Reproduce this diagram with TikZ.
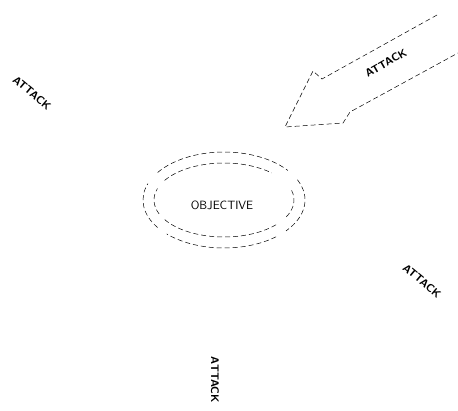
\documentclass[tikz,border=0pt]{standalone}
\usepackage{fontspec}
\usepackage{tikz}
\usetikzlibrary{calc}

\begin{document}
\begin{tikzpicture}[x=1pt,y=-1pt,
    pointille/.style={dash pattern=on 5pt off 3pt, line width=0.5pt},
    attaque/.style={font=\sffamily\bfseries\fontsize{11}{12}\selectfont},
    objectif/.style={font=\sffamily\fontsize{12}{13}\selectfont}]
    \useasboundingbox (0,0) rectangle (458,410);

    % Points
    \coordinate (centre) at (224,200);
    \coordinate (pointe) at (285,127);
    \coordinate (barbeHaut) at (313,71);
    \coordinate (tigeHaut) at (322,79);
    \coordinate (finHaut) at (437,15);
    \coordinate (barbeBas) at (343,123);
    \coordinate (tigeBas) at (350,112);
    \coordinate (finBas) at (458,53);

    % Dessin de l'objectif
    \draw[pointille] ($(centre)+(215:81 and 48)$) arc[start angle=215, end angle=322, x radius=81, y radius=48];
    \draw[pointille] ($(centre)+(335:81 and 48)$) arc[start angle=335, end angle=400, x radius=81, y radius=48];
    \draw[pointille] ($(centre)+(50:81 and 48)$) arc[start angle=50, end angle=135, x radius=81, y radius=48];
    \draw[pointille] ($(centre)+(145:81 and 48)$) arc[start angle=145, end angle=200, x radius=81, y radius=48];
    \draw[pointille] ($(centre)+(212:70 and 37)$) arc[start angle=212, end angle=313, x radius=70, y radius=37];
    \draw[pointille] ($(centre)+(345:70 and 37)$) arc[start angle=345, end angle=388, x radius=70, y radius=37];
    \draw[pointille] ($(centre)+(42:70 and 37)$) arc[start angle=42, end angle=150, x radius=70, y radius=37];
    \draw[pointille] ($(centre)+(158:70 and 37)$) arc[start angle=158, end angle=198, x radius=70, y radius=37];
    \node[objectif] (objectif) at (222,205) {OBJECTIVE};

    % Dessin de la fleche
    \draw[pointille] (finHaut) -- (tigeHaut) -- (barbeHaut) -- (pointe) -- (barbeBas) -- (tigeBas) -- (finBas);
    \node[attaque, rotate=30] (attaqueFleche) at (386,63) {ATTACK};

    % Autres attaques
    \node[attaque, rotate=-40] (attaqueGauche) at (32,93) {ATTACK};
    \node[attaque, rotate=-40] (attaqueDroite) at (422,281) {ATTACK};
    \node[attaque, rotate=-90] (attaqueBas) at (215,380) {ATTACK};
\end{tikzpicture}
\end{document}
